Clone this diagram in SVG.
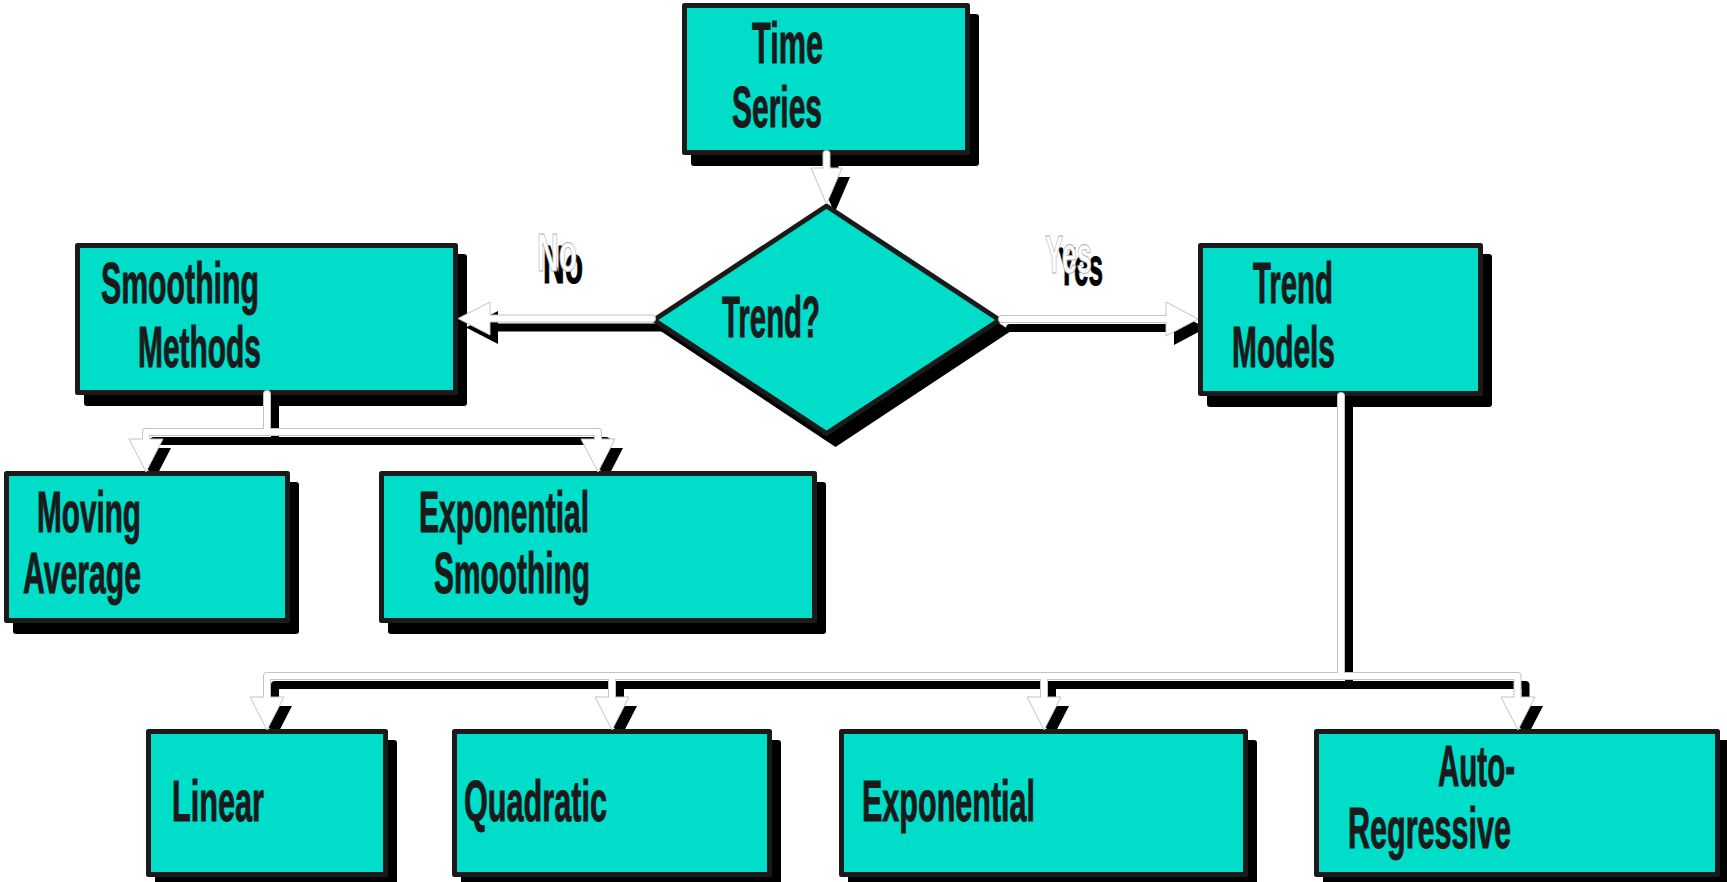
<svg xmlns="http://www.w3.org/2000/svg" xmlns:xlink="http://www.w3.org/1999/xlink" width="1727" height="882" viewBox="0 0 1727 882">
<style>
.nsh{fill:#000}
.box{fill:#00DECA;stroke:#1a1a1a;stroke-width:5;stroke-linejoin:round}
.t{font-family:"Liberation Sans Narrow","Liberation Sans",Arial,sans-serif;font-weight:bold;font-size:57px;fill:#1a1a1a;stroke:#1a1a1a;stroke-width:1}
.lb{font-family:"Liberation Sans Narrow","Liberation Sans",Arial,sans-serif;font-weight:bold;font-size:54px}
.lbw{fill:#fff;stroke:#b4b4b4;stroke-width:1}
.lbb{fill:#000;stroke:#000;stroke-width:1}
.ssh{fill:none;stroke:#000;stroke-width:8;stroke-linecap:round;stroke-linejoin:round}
.hsh{fill:#000;stroke:none}
.sg{fill:none;stroke:#c4c4c4;stroke-width:8;stroke-linecap:round;stroke-linejoin:round}
.sw{fill:none;stroke:#fff;stroke-width:6;stroke-linecap:round;stroke-linejoin:round}
.hw{fill:#fff;stroke:#c4c4c4;stroke-width:1}
</style>
<defs>
  <path id="s1" d="M826.5 154 V 172"/>
  <polygon id="h1" points="811,168 842,168 826.5,204"/>
  <path id="s2" d="M652 318.5 H 486"/>
  <polygon id="h2" points="490,302 490,335 458,318.5"/>
  <path id="s3" d="M1002 319 H 1170"/>
  <polygon id="h3" points="1166,302 1166,336 1198,319"/>
  <path id="s4" d="M267 394 V 432 M146 443 V 432 H 598 V 443"/>
  <path id="h4" d="M129 439 L163 439 L146 472 Z M581 439 L615 439 L598 472 Z"/>
  <path id="s5" d="M1341 396 V 676 M267 700 V 676 H 1517.5 V 700 M612 676 V 700 M1044 676 V 700"/>
  <path id="h5" d="M250 697 L284 697 L267 730 Z M595 697 L629 697 L612 730 Z M1027 697 L1061 697 L1044 730 Z M1501 697 L1535 697 L1518 730 Z"/>
</defs>

<g id="node-shadows">
  <rect class="nsh" x="691" y="14" width="288" height="152" rx="3"/>
  <polygon class="nsh" points="835.5,214.5 1011,331 835.5,447 660.5,331"/>
  <rect class="nsh" x="84" y="254" width="383" height="152" rx="3"/>
  <rect class="nsh" x="1207" y="254" width="285" height="153" rx="3"/>
  <rect class="nsh" x="13" y="482" width="286" height="152" rx="3"/>
  <rect class="nsh" x="388" y="482" width="438" height="152" rx="3"/>
  <rect class="nsh" x="155" y="740" width="242" height="148" rx="3"/>
  <rect class="nsh" x="461" y="740" width="320" height="148" rx="3"/>
  <rect class="nsh" x="848" y="740" width="409" height="148" rx="3"/>
  <rect class="nsh" x="1323" y="740" width="406" height="148" rx="3"/>
</g>

<g id="connector-shadows" transform="translate(8,9)">
  <use xlink:href="#s1" class="ssh"/><use xlink:href="#h1" class="hsh"/>
  <use xlink:href="#s2" class="ssh"/><use xlink:href="#h2" class="hsh"/>
  <use xlink:href="#s3" class="ssh"/><use xlink:href="#h3" class="hsh"/>
  <use xlink:href="#s4" class="ssh"/><use xlink:href="#h4" class="hsh"/>
  <use xlink:href="#s5" class="ssh"/><use xlink:href="#h5" class="hsh"/>
</g>

<g id="time-series">
  <rect class="box" x="684.5" y="5.5" width="283" height="147"/>
  <text class="t" x="752" y="63" textLength="71" lengthAdjust="spacingAndGlyphs">Time</text>
  <text class="t" x="732" y="127" textLength="90" lengthAdjust="spacingAndGlyphs">Series</text>
</g>
<g id="trend-decision">
  <polygon class="box" points="826.5,206 999.5,320 826.5,433.5 654,320"/>
  <text class="t" x="722" y="337" textLength="98" lengthAdjust="spacingAndGlyphs">Trend?</text>
</g>
<g id="smoothing-methods">
  <rect class="box" x="77.5" y="245.5" width="378" height="147"/>
  <text class="t" x="101" y="303" textLength="158" lengthAdjust="spacingAndGlyphs">Smoothing</text>
  <text class="t" x="138" y="367" textLength="123" lengthAdjust="spacingAndGlyphs">Methods</text>
</g>
<g id="trend-models">
  <rect class="box" x="1200.5" y="245.5" width="280" height="148"/>
  <text class="t" x="1253" y="303" textLength="80" lengthAdjust="spacingAndGlyphs">Trend</text>
  <text class="t" x="1232" y="367" textLength="103" lengthAdjust="spacingAndGlyphs">Models</text>
</g>
<g id="moving-average">
  <rect class="box" x="6.5" y="473.5" width="281" height="147"/>
  <text class="t" x="37" y="532" textLength="104" lengthAdjust="spacingAndGlyphs">Moving</text>
  <text class="t" x="23" y="593" textLength="118" lengthAdjust="spacingAndGlyphs">Average</text>
</g>
<g id="exponential-smoothing">
  <rect class="box" x="381.5" y="473.5" width="433" height="147"/>
  <text class="t" x="419" y="532" textLength="170" lengthAdjust="spacingAndGlyphs">Exponential</text>
  <text class="t" x="434" y="593" textLength="156" lengthAdjust="spacingAndGlyphs">Smoothing</text>
</g>
<g id="linear">
  <rect class="box" x="148.5" y="731.5" width="237" height="143"/>
  <text class="t" x="172" y="821" textLength="92" lengthAdjust="spacingAndGlyphs">Linear</text>
</g>
<g id="quadratic">
  <rect class="box" x="454.5" y="731.5" width="315" height="143"/>
  <text class="t" x="464" y="821" textLength="143" lengthAdjust="spacingAndGlyphs">Quadratic</text>
</g>
<g id="exponential">
  <rect class="box" x="841.5" y="731.5" width="404" height="143"/>
  <text class="t" x="862" y="821" textLength="173" lengthAdjust="spacingAndGlyphs">Exponential</text>
</g>
<g id="auto-regressive">
  <rect class="box" x="1316.5" y="731.5" width="401" height="143"/>
  <text class="t" x="1438" y="786" textLength="77" lengthAdjust="spacingAndGlyphs">Auto-</text>
  <text class="t" x="1348" y="848" textLength="163" lengthAdjust="spacingAndGlyphs">Regressive</text>
</g>

<g id="connectors">
  <use xlink:href="#s1" class="sg"/><use xlink:href="#h1" class="hw"/><use xlink:href="#s1" class="sw"/>
  <use xlink:href="#s2" class="sg"/><use xlink:href="#h2" class="hw"/><use xlink:href="#s2" class="sw"/>
  <use xlink:href="#s3" class="sg"/><use xlink:href="#h3" class="hw"/><use xlink:href="#s3" class="sw"/>
  <use xlink:href="#s4" class="sg"/><use xlink:href="#h4" class="hw"/><use xlink:href="#s4" class="sw"/>
  <use xlink:href="#s5" class="sg"/><use xlink:href="#h5" class="hw"/><use xlink:href="#s5" class="sw"/>
  <g id="label-no">
    <text class="lb lbb" x="543" y="283" textLength="40" lengthAdjust="spacingAndGlyphs">No</text>
    <text class="lb lbw" x="537" y="271" textLength="40" lengthAdjust="spacingAndGlyphs">No</text>
  </g>
  <g id="label-yes">
    <text class="lb lbb" x="1058" y="285" textLength="45" lengthAdjust="spacingAndGlyphs">Yes</text>
    <text class="lb lbw" x="1045" y="273" textLength="47" lengthAdjust="spacingAndGlyphs">Yes</text>
  </g>
</g>
</svg>
